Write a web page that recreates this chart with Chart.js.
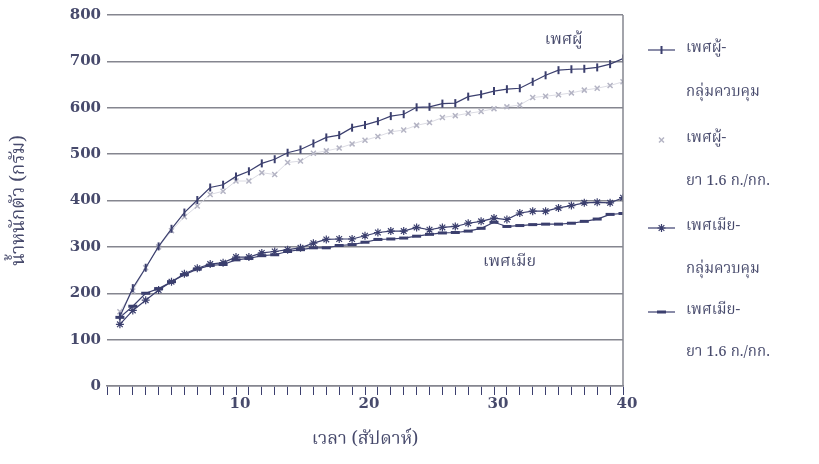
<!DOCTYPE html>
<html>
<head>
<meta charset="utf-8">
<script src="https://cdn.jsdelivr.net/npm/chart.js@4.4.1/dist/chart.umd.min.js"></script>
<style>
  html, body { margin: 0; padding: 0; background: #ffffff; }
  #wrap { width: 819px; height: 464px; position: relative; }
</style>
</head>
<body>
<div id="wrap"><canvas id="c" width="819" height="464"></canvas></div>
<script>
// ---- data ----
const weeks = [1,2,3,4,5,6,7,8,9,10,11,12,13,14,15,16,17,18,19,20,21,22,23,24,25,26,27,28,29,30,31,32,33,34,35,36,37,38,39,40];
const maleControl = [150,211,255,301,339,374,401,428,434,452,463,480,489,503,510,523,536,541,557,563,571,582,586,601,602,609,610,624,629,636,640,642,656,670,681,683,684,687,694,706];
const maleDrug = [160,205,255,300,335,365,388,413,420,442,442,460,456,482,485,502,507,513,522,530,538,548,552,562,568,579,583,588,592,598,602,606,622,625,628,632,638,642,648,656];
const femaleControl = [133,163,185,207,225,242,254,263,266,278,278,287,290,294,298,308,316,317,317,324,331,334,334,342,337,342,344,351,355,362,359,373,377,377,384,389,395,396,395,406];
const femaleDrug = [148,172,200,210,225,240,252,260,262,272,275,281,283,290,294,298,298,303,305,310,316,317,319,323,327,330,331,334,340,353,344,346,348,349,349,351,355,360,370,372];
const seriesNames = [["เพศผู้-","กลุ่มควบคุม"],["เพศผู้-","ยา 1.6 ก./กก."],["เพศเมีย-","กลุ่มควบคุม"],["เพศเมีย-","ยา 1.6 ก./กก."]];
const xLabels = [10,20,30,40];
const yTitle = "น้ำหนักตัว (กรัม)";
const xTitle = "เวลา (สัปดาห์)";
const annotations = [{text:"เพศผู้", x:35.4, y:744},{text:"เพศเมีย", x:31.2, y:264}];

const NAVY = '#3b3f6e';
const LIGHT = '#b4b4c4';
const TEXT = '#474a6c';
const GRID = '#85868f';
const THAI = '"Noto Serif Thai","Noto Sans Thai","Loma","Garuda","Norasi","DejaVu Serif",serif';

function pts(arr){ return arr.map((v,i)=>({x:weeks[i], y:v})); }

const datasets = [
  {data:pts(maleControl), borderColor:NAVY, backgroundColor:NAVY, borderWidth:1.2, pointStyle:'line', rotation:90, pointRadius:4, pointBorderWidth:2},
  {data:pts(maleDrug), borderColor:'#d2d2dc', backgroundColor:LIGHT, pointBorderColor:LIGHT, borderWidth:0.8, pointStyle:'crossRot', pointRadius:3.5, pointBorderWidth:1.5},
  {data:pts(femaleControl), borderColor:NAVY, backgroundColor:NAVY, borderWidth:1.2, pointStyle:'star', pointRadius:4, pointBorderWidth:1.2},
  {data:pts(femaleDrug), borderColor:NAVY, backgroundColor:NAVY, borderWidth:1.2, pointStyle:'line', rotation:0, pointRadius:4.5, pointBorderWidth:3}
];
datasets.forEach(d=>{ d.fill=false; d.tension=0; d.pointHoverRadius=d.pointRadius; });

const extras = {
  id:'extras',
  afterDraw(chart){
    const ctx = chart.ctx, a = chart.chartArea;
    const xs = chart.scales.x, ys = chart.scales.y;
    ctx.save();
    // right border
    ctx.strokeStyle = GRID; ctx.lineWidth = 1.5;
    ctx.beginPath(); ctx.moveTo(a.right, a.top); ctx.lineTo(a.right, a.bottom); ctx.stroke();
    // annotations
    ctx.fillStyle = TEXT; ctx.font = '16px ' + THAI;
    ctx.textAlign = 'center'; ctx.textBaseline = 'middle';
    annotations.forEach(an => ctx.fillText(an.text, xs.getPixelForValue(an.x), ys.getPixelForValue(an.y)));
    // legend
    const rows = [50, 140, 228, 312];
    const gap = [44, 43, 43, 42];
    chart.data.datasets.forEach((ds, i) => {
      const y = rows[i];
      const x0 = 648, x1 = 675, xm = (x0 + x1) / 2;
      if (i !== 1) {
        ctx.strokeStyle = ds.borderColor; ctx.lineWidth = 1.2;
        ctx.beginPath(); ctx.moveTo(x0, y); ctx.lineTo(x1, y); ctx.stroke();
      }
      ctx.strokeStyle = ds.pointBorderColor || ds.borderColor;
      ctx.fillStyle = ds.backgroundColor;
      ctx.lineWidth = ds.pointBorderWidth;
      Chart.helpers.drawPoint(ctx, {pointStyle: ds.pointStyle, rotation: ds.rotation || 0, radius: ds.pointRadius, borderWidth: ds.pointBorderWidth}, xm, y);
      ctx.fillStyle = TEXT; ctx.font = '15px ' + THAI;
      ctx.textAlign = 'left'; ctx.textBaseline = 'middle';
      ctx.fillText(seriesNames[i][0], 686, y);
      ctx.fillText(seriesNames[i][1], 686, y + gap[i]);
    });
    ctx.restore();
  }
};

new Chart(document.getElementById('c'), {
  type: 'line',
  data: { datasets },
  options: {
    responsive: false,
    animation: false,
    layout: { padding: { top: 8, right: 196, bottom: 0, left: 0 } },
    plugins: { legend: { display: false }, tooltip: { enabled: false } },
    scales: {
      x: {
        type: 'linear', min: 0, max: 40,
        afterFit(s){ s.height = 78; },
        border: { display: true, color: GRID, width: 1.5 },
        grid: { display: true, drawOnChartArea: false, drawTicks: true, tickLength: 9, color: NAVY, lineWidth: 1 },
        ticks: { stepSize: 1, autoSkip: false, maxRotation: 0, padding: 0, labelOffset: 4,
          color: TEXT, font: { family: '"DejaVu Serif", serif', size: 15, weight: 'bold' },
          callback: v => xLabels.includes(v) ? String(v) : '' },
        title: { display: true, text: xTitle, color: TEXT, font: { family: THAI, size: 18 }, padding: { top: 0, bottom: 12 } }
      },
      y: {
        min: 0, max: 800,
        afterFit(s){ s.width = 107; },
        border: { display: false },
        grid: { color: GRID, lineWidth: 1.5, drawTicks: false },
        ticks: { stepSize: 100, padding: 6, color: TEXT, font: { family: '"DejaVu Serif", serif', size: 15, weight: 'bold' } },
        title: { display: true, text: yTitle, color: TEXT, font: { family: THAI, size: 19 }, padding: { top: 9, bottom: 0 } }
      }
    }
  },
  plugins: [extras]
});
</script>
</body>
</html>
